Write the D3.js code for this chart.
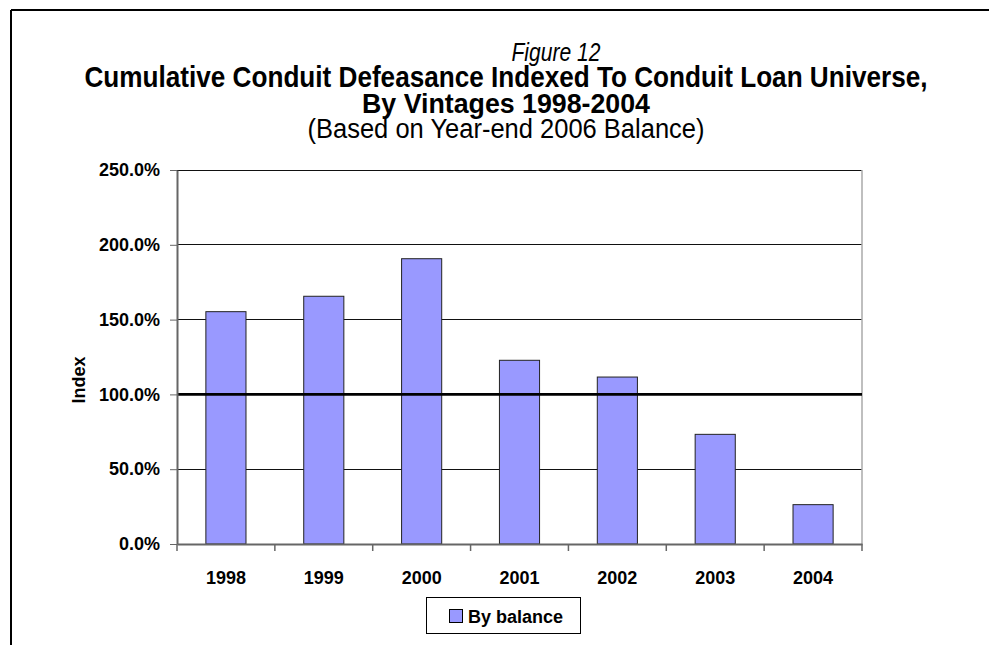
<!DOCTYPE html>
<html>
<head>
<meta charset="utf-8">
<script src="https://cdn.jsdelivr.net/npm/d3@7"></script>
<style>
  html, body { margin: 0; padding: 0; background: #fff; }
  svg { display: block; }
  text { font-family: "Liberation Sans", Arial, sans-serif; fill: #000; }
</style>
</head>
<body>
<svg id="chart" width="989" height="645"></svg>
<script>
// Vintage years and cumulative defeasance index (share of conduit loan universe)
const vintages = ["1998", "1999", "2000", "2001", "2002", "2003", "2004"];
const byBalance = [1.553, 1.656, 1.907, 1.228, 1.116, 0.733, 0.263];
const yTicks = [0, 0.5, 1.0, 1.5, 2.0, 2.5];
const referenceLevel = 1.0;
const seriesName = "By balance";

const svg = d3.select("#chart");
const W = 989, H = 645;
const plot = { left: 177, right: 862, top: 170, bottom: 544 };

// Outer frame: top and left rules only
svg.append("line").attr("x1", 11).attr("x2", W).attr("y1", 10).attr("y2", 10)
  .attr("stroke", "#000").attr("stroke-width", 2);
svg.append("line").attr("x1", 11).attr("x2", 11).attr("y1", 10).attr("y2", H)
  .attr("stroke", "#000").attr("stroke-width", 2);

// Titles
svg.append("text").attr("x", 556).attr("y", 61).attr("text-anchor", "middle")
  .style("font-style", "italic").style("font-size", "25px")
  .attr("textLength", 89).attr("lengthAdjust", "spacingAndGlyphs")
  .text("Figure 12");
svg.append("text").attr("x", 506).attr("y", 87).attr("text-anchor", "middle")
  .style("font-weight", "bold").style("font-size", "30px")
  .attr("textLength", 843).attr("lengthAdjust", "spacingAndGlyphs")
  .text("Cumulative Conduit Defeasance Indexed To Conduit Loan Universe,");
svg.append("text").attr("x", 506).attr("y", 113).attr("text-anchor", "middle")
  .style("font-weight", "bold").style("font-size", "28px")
  .attr("textLength", 288).attr("lengthAdjust", "spacingAndGlyphs")
  .text("By Vintages 1998-2004");
svg.append("text").attr("x", 506).attr("y", 138).attr("text-anchor", "middle")
  .style("font-size", "27px")
  .attr("textLength", 397).attr("lengthAdjust", "spacingAndGlyphs")
  .text("(Based on Year-end 2006 Balance)");

// Scales
const x = d3.scaleBand().domain(vintages).range([plot.left, plot.right]).padding(0);
const y = d3.scaleLinear().domain([0, 2.5]).range([plot.bottom, plot.top]);
const barW = x.bandwidth() * 0.41;
const pct = d3.format(".1%");

// Horizontal gridlines (the 100% reference is drawn separately on top)
svg.append("g").selectAll("line")
  .data(yTicks.filter(d => d > 0 && d !== referenceLevel))
  .join("line")
  .attr("x1", plot.left).attr("x2", plot.right)
  .attr("y1", d => y(d)).attr("y2", d => y(d))
  .attr("stroke", "#111").attr("stroke-width", 1).attr("shape-rendering", "crispEdges");

// Right border of plot area
svg.append("line").attr("x1", plot.right).attr("x2", plot.right)
  .attr("y1", plot.top).attr("y2", plot.bottom)
  .attr("stroke", "#aaa").attr("stroke-width", 1.5);

// Bars
svg.append("g").selectAll("rect")
  .data(vintages.map((v, i) => ({ v, val: byBalance[i] })))
  .join("rect")
  .attr("x", d => x(d.v) + (x.bandwidth() - barW) / 2)
  .attr("y", d => y(d.val))
  .attr("width", barW)
  .attr("height", d => y(0) - y(d.val))
  .attr("fill", "#9999ff")
  .attr("stroke", "#222").attr("stroke-width", 1);

// 100% reference line
svg.append("line").attr("x1", plot.left).attr("x2", plot.right)
  .attr("y1", y(referenceLevel)).attr("y2", y(referenceLevel))
  .attr("stroke", "#000").attr("stroke-width", 2.6);

// Y axis
const yAxis = svg.append("g").attr("transform", `translate(${plot.left},0)`)
  .call(d3.axisLeft(y).tickValues(yTicks).tickFormat(pct).tickSizeInner(7).tickSizeOuter(0).tickPadding(10));
yAxis.select(".domain").attr("stroke", "#666").attr("stroke-width", 2);
yAxis.selectAll(".tick line").attr("stroke", "#666");
yAxis.selectAll(".tick text")
  .style("font-family", "'Liberation Sans', Arial, sans-serif")
  .style("font-weight", "bold").style("font-size", "18px").attr("fill", "#000");

// X axis with ticks at category boundaries
const xAxis = svg.append("g").attr("transform", `translate(0,${plot.bottom})`)
  .call(d3.axisBottom(x).tickSize(0).tickPadding(27));
xAxis.select(".domain").attr("stroke", "#666").attr("stroke-width", 2);
xAxis.selectAll(".tick text")
  .style("font-family", "'Liberation Sans', Arial, sans-serif")
  .style("font-weight", "bold").style("font-size", "18px").attr("fill", "#000");
xAxis.append("g").selectAll("line")
  .data(vintages.map(v => x(v)).concat([plot.right]))
  .join("line")
  .attr("x1", d => d).attr("x2", d => d).attr("y1", 0).attr("y2", 7)
  .attr("stroke", "#666").attr("stroke-width", 1.5);

// Y axis title
svg.append("text")
  .attr("transform", "translate(85,380) rotate(-90)")
  .attr("text-anchor", "middle")
  .style("font-weight", "bold").style("font-size", "18px")
  .text("Index");

// Legend
const lg = svg.append("g");
lg.append("rect").attr("x", 426.5).attr("y", 597.5).attr("width", 154).attr("height", 36)
  .attr("fill", "#fff").attr("stroke", "#000").attr("stroke-width", 1);
lg.append("rect").attr("x", 449.5).attr("y", 609.5).attr("width", 13).attr("height", 13)
  .attr("fill", "#9999ff").attr("stroke", "#000").attr("stroke-width", 1);
lg.append("text").attr("x", 468).attr("y", 623)
  .style("font-weight", "bold").style("font-size", "18px")
  .text(seriesName);
</script>
</body>
</html>
